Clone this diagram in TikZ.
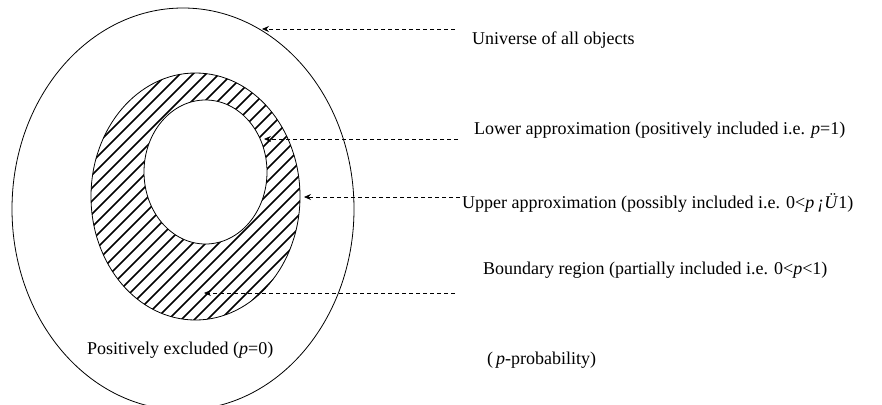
\documentclass[tikz,border=0pt]{standalone}
\usepackage{fontspec}
\setmainfont{Liberation Serif}
\usetikzlibrary{arrows.meta}
\tikzset{
  lbl/.style={anchor=base west, inner sep=0pt, font=\fontsize{18}{20}\selectfont},
  pointer/.style={dash pattern=on 4pt off 3pt, line width=0.7pt, -{Stealth[length=7pt,width=6pt,inset=2.5pt]}},
  outline/.style={line width=0.8pt},
  hatch/.style={line width=1.5pt},
}
\begin{document}
\begin{tikzpicture}[x=1pt,y=-1pt]
\useasboundingbox (0,0) rectangle (882,404);
\clip (0,0) rectangle (882,404);
\fill[white] (0,0) rectangle (882,404);
% universe
\draw[outline] (183,209) ellipse [x radius=171pt, y radius=201pt];
% hatched ring
\begin{scope}
  \clip (195.5,196.5) ellipse [x radius=104.5pt, y radius=123.5pt];
  \foreach \c in {150,163,...,650} {
    \draw[hatch] (\c-400,400) -- (\c,0);
  }
\end{scope}
\fill[white] (205.5,172) ellipse [x radius=61.5pt, y radius=72pt];
\draw[outline] (195.5,196.5) ellipse [x radius=104.5pt, y radius=123.5pt];
\draw[outline] (205.5,172) ellipse [x radius=61.5pt, y radius=72pt];
% anchor coordinates
\coordinate (tU) at (262,29);
\coordinate (tL) at (264,139);
\coordinate (tP) at (304,197);
\coordinate (tB) at (204,293);
\coordinate (eU) at (455,29);
\coordinate (eL) at (458,139);
\coordinate (eP) at (460,197);
\coordinate (eB) at (455,293);
\draw[pointer] (eU) -- (tU);
\draw[pointer] (eL) -- (tL);
\draw[pointer] (eP) -- (tP);
\draw[pointer] (eB) -- (tB);
% labels
\node[lbl] (nU) at (472,45) {Universe of all objects};
\node[lbl] (nL) at (474,134) {Lower approximation (positively included i.e. \textit{p}=1)};
\node[lbl] (nP) at (462,208) {Upper approximation (possibly included i.e. 0<\textit{p}\,\textit{¡Ü}1)};
\node[lbl] (nB) at (483,274) {Boundary region (partially included i.e. 0<\textit{p}<1)};
\node[lbl] (nE) at (87,354) {Positively excluded (\textit{p}=0)};
\node[lbl] (nQ) at (487,364) {(\,\textit{p}-probability)};
\end{tikzpicture}
\end{document}
